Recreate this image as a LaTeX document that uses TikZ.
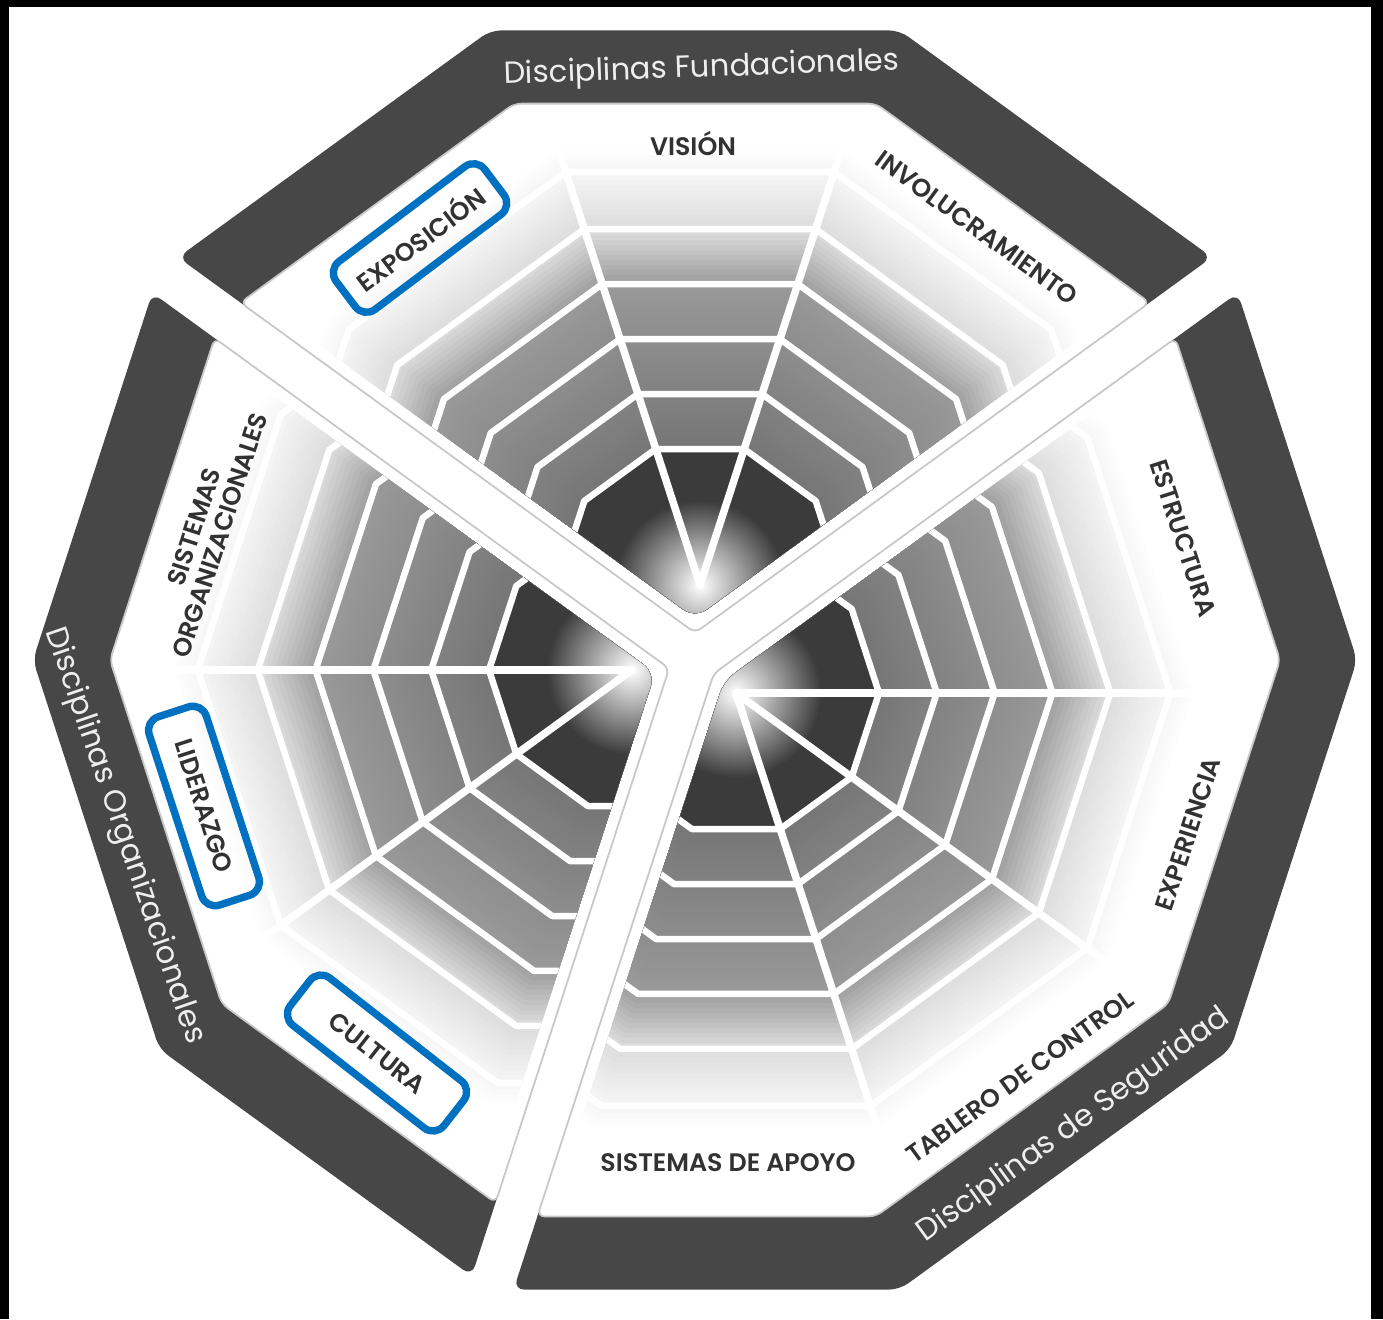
\documentclass[tikz,border=0pt]{standalone}
\usepackage{fontspec}
\usetikzlibrary{calc}
\newfontfamily\capfont{Poppins SemiBold}
\newfontfamily\bandfont{Poppins}
\definecolor{bandGray}{RGB}{71,71,71}
\definecolor{hlBlue}{RGB}{0,112,192}
\definecolor{capInk}{RGB}{50,50,50}
\definecolor{bandInk}{RGB}{238,238,238}
\definecolor{rimLine}{RGB}{200,200,200}
\tikzset{
  band/.style={fill=bandGray, rounded corners=3pt},
  plate/.style={fill=white, draw=rimLine, line width=0.5pt, rounded corners=2pt},
  webline/.style={draw=white, line width=0.065cm, line join=round},
  spoke/.style={draw=white, line width=0.075cm, line cap=round},
  disc/.style={font=\capfont\fontsize{7.2}{7.7}\selectfont, text=capInk, align=center, inner sep=1pt},
  hlbox/.style={disc, draw=hlBlue, line width=2.1pt, rounded corners=4pt, minimum width=1.86cm, minimum height=0.6cm},
  bandlabel/.style={font=\bandfont\fontsize{8.7}{10}\selectfont, text=bandInk, inner sep=0pt}
}
\newcommand\sectorpath[5]{%
  ($(O)+({(#1+#2)/2}:{#4/sin((#2-#1)/2)})$)
  -- ($(O)+({#1+90}:#4)+(#1:{#3-0.3249*#4})$)
  \foreach \v in {#5}{ -- ($(O)+(\v:#3)$) }
  -- ($(O)+({#2-90}:#4)+(#2:{#3-0.3249*#4})$) -- cycle}
\newcommand\ringpath[2]{%
  ($(#1)+(0:{#2/cos(18)})$) \foreach \k in {1,...,9}{ -- ($(#1)+(\k*36:{#2/cos(18)})$) } -- cycle}
\newcommand\drawweb[5]{%
  \begin{scope}
    \clip[rounded corners=4pt] \sectorpath{#2}{#3}{5.72}{0.34}{#4};
    \foreach \i in {0,...,62}{
      \pgfmathsetmacro\ap{4.5-0.05*\i}
      \pgfmathsetmacro\dk{\ap<=3.01 ? 54-(\ap-1.36)*8.48 : (\ap<=3.56 ? 40-(\ap-3.01)*47.3 : (\ap<=4.13 ? 14-(\ap-3.56)*17.5 : max(0,4-(\ap-4.13)*15)))}
      \fill[black!\dk] \ringpath{#1}{\ap};
    }
    \fill[black!77] \ringpath{#1}{1.36};
    \begin{scope}
      \clip \ringpath{#1}{1.36};
      \shade[inner color=white, outer color=black!77] (#1) circle (0.85);
    \end{scope}
    \foreach \r in {1.36,1.91,2.46,3.01,3.56,4.13}{ \draw[webline] \ringpath{#1}{\r}; }
    \foreach \s in {#5}{ \draw[spoke] (#1) -- ++(\s:6); }
  \end{scope}}

\begin{document}
\begin{tikzpicture}
  \useasboundingbox (0,0) rectangle (13.83,-13.19);
  \fill[white] (0,0) rectangle (13.83,-13.19);
  \fill[black] (0,0) rectangle (0.09,-13.19);
  \fill[black] (0,0) rectangle (13.83,-0.07);
  \fill[black] (13.71,0) rectangle (13.83,-13.19);

  \coordinate (O) at (6.95,-6.60);
  \coordinate (Wt) at (7.00,-5.85);
  \coordinate (Wl) at (6.32,-6.70);
  \coordinate (Wr) at (7.36,-6.93);

  \path[band] \sectorpath{36}{144}{6.62}{0.22}{72,108};
  \path[plate] \sectorpath{36}{144}{5.85}{0.22}{72,108};
  \drawweb{Wt}{36}{144}{72,108}{72,108}

  \path[band] \sectorpath{144}{252}{6.62}{0.22}{180,216};
  \path[plate] \sectorpath{144}{252}{5.85}{0.22}{180,216};
  \drawweb{Wl}{144}{252}{180,216}{180,216}

  \path[band] \sectorpath{-108}{36}{6.62}{0.22}{-72,-36,0};
  \path[plate] \sectorpath{-108}{36}{5.85}{0.22}{-72,-36,0};
  \drawweb{Wr}{-108}{36}{-72,-36,0}{-72,-36,0}

  \node[disc] (vision) at (6.93,-1.43) {VISIÓN};
  \node[disc, rotate=-36] (involucramiento) at (9.77,-2.28) {INVOLUCRAMIENTO};
  \node[hlbox, rotate=37] (exposicion) at (4.20,-2.38) {EXPOSICIÓN};
  \node[disc, rotate=72] (sisorg) at (2.07,-5.31) {SISTEMAS\\ORGANIZACIONALES};
  \node[hlbox, rotate=-72, minimum width=1.98cm] (liderazgo) at (2.04,-8.06) {LIDERAZGO};
  \node[hlbox, rotate=-38, minimum width=1.95cm] (cultura) at (3.77,-10.53) {CULTURA};
  \node[disc] (apoyo) at (7.28,-11.63) {SISTEMAS DE APOYO};
  \node[disc, rotate=36] (tablero) at (10.20,-10.77) {TABLERO DE CONTROL};
  \node[disc, rotate=72] (experiencia) at (11.88,-8.34) {EXPERIENCIA};
  \node[disc, rotate=-72] (estructura) at (11.83,-5.38) {ESTRUCTURA};

  \node[bandlabel, rotate=2, anchor=base] (fundacionales) at (7.02,-0.77) {Disciplinas Fundacionales};
  \node[bandlabel, rotate=-71] (organizacionales) at (1.24,-8.36) {Disciplinas Organizacionales};
  \node[bandlabel, rotate=36] (seguridad) at (10.74,-11.26) {Disciplinas de Seguridad};
\end{tikzpicture}
\end{document}
